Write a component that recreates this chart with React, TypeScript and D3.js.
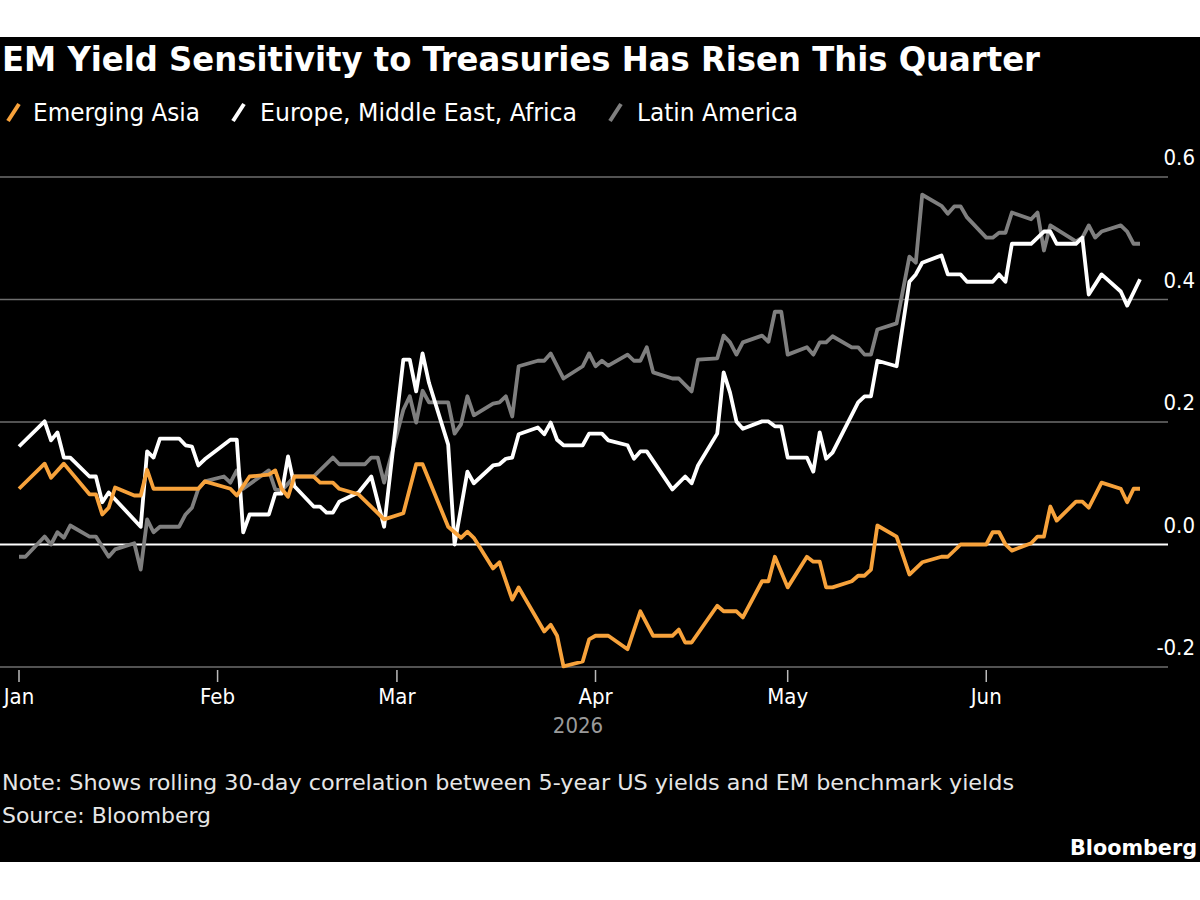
import { useMemo } from "react";
import * as d3 from "d3";

type Point = [string, number];

const title = "EM Yield Sensitivity to Treasuries Has Risen This Quarter";
const seriesNames = ["Emerging Asia", "Europe, Middle East, Africa", "Latin America"];
const seriesColors = ["#f7a23b", "#ffffff", "#7f7f7f"];
const yTicks = [-0.2, 0, 0.2, 0.4, 0.6];
const yearLabel = "2026";
const note = "Note: Shows rolling 30-day correlation between 5-year US yields and EM benchmark yields";
const source = "Source: Bloomberg";
const brand = "Bloomberg";

const emergingAsia: Point[] = [
    ["2026-01-01", 0.091], ["2026-01-05", 0.132], ["2026-01-06", 0.109], ["2026-01-08", 0.132],
    ["2026-01-12", 0.082], ["2026-01-13", 0.082], ["2026-01-14", 0.049], ["2026-01-15", 0.06],
    ["2026-01-16", 0.093], ["2026-01-19", 0.08], ["2026-01-20", 0.08], ["2026-01-21", 0.122],
    ["2026-01-22", 0.091], ["2026-01-29", 0.091], ["2026-01-30", 0.103], ["2026-02-03", 0.091],
    ["2026-02-04", 0.08], ["2026-02-06", 0.111], ["2026-02-09", 0.114], ["2026-02-10", 0.121],
    ["2026-02-11", 0.091], ["2026-02-12", 0.078], ["2026-02-13", 0.111], ["2026-02-16", 0.111],
    ["2026-02-17", 0.101], ["2026-02-19", 0.101], ["2026-02-20", 0.091], ["2026-02-23", 0.082],
    ["2026-02-27", 0.041], ["2026-03-02", 0.051], ["2026-03-04", 0.131], ["2026-03-05", 0.131],
    ["2026-03-09", 0.029], ["2026-03-11", 0.011], ["2026-03-12", 0.021], ["2026-03-13", 0.011],
    ["2026-03-16", -0.039], ["2026-03-17", -0.029], ["2026-03-19", -0.09], ["2026-03-20", -0.07],
    ["2026-03-24", -0.142], ["2026-03-25", -0.131], ["2026-03-26", -0.149], ["2026-03-27", -0.199],
    ["2026-03-30", -0.191], ["2026-03-31", -0.155], ["2026-04-01", -0.149], ["2026-04-03", -0.149],
    ["2026-04-06", -0.171], ["2026-04-08", -0.109], ["2026-04-10", -0.149], ["2026-04-13", -0.149],
    ["2026-04-14", -0.139], ["2026-04-15", -0.16], ["2026-04-16", -0.16], ["2026-04-20", -0.1],
    ["2026-04-21", -0.109], ["2026-04-23", -0.109], ["2026-04-24", -0.119], ["2026-04-27", -0.06],
    ["2026-04-28", -0.06], ["2026-04-29", -0.02], ["2026-05-01", -0.07], ["2026-05-04", -0.02],
    ["2026-05-05", -0.028], ["2026-05-06", -0.028], ["2026-05-07", -0.07], ["2026-05-08", -0.07],
    ["2026-05-11", -0.06], ["2026-05-12", -0.051], ["2026-05-13", -0.051], ["2026-05-14", -0.041],
    ["2026-05-15", 0.031], ["2026-05-18", 0.013], ["2026-05-20", -0.049], ["2026-05-22", -0.029],
    ["2026-05-25", -0.02], ["2026-05-26", -0.02], ["2026-05-28", 0], ["2026-06-01", 0],
    ["2026-06-02", 0.02], ["2026-06-03", 0.02], ["2026-06-04", 0], ["2026-06-05", -0.01],
    ["2026-06-08", 0.002], ["2026-06-09", 0.013], ["2026-06-10", 0.013], ["2026-06-11", 0.062],
    ["2026-06-12", 0.039], ["2026-06-15", 0.07], ["2026-06-16", 0.07], ["2026-06-17", 0.06],
    ["2026-06-19", 0.101], ["2026-06-22", 0.091], ["2026-06-23", 0.069], ["2026-06-24", 0.091],
    ["2026-06-25", 0.091],
];

const emea: Point[] = [
    ["2026-01-01", 0.16], ["2026-01-05", 0.201], ["2026-01-06", 0.17], ["2026-01-07", 0.183],
    ["2026-01-08", 0.142], ["2026-01-09", 0.142], ["2026-01-12", 0.111], ["2026-01-13", 0.111],
    ["2026-01-14", 0.069], ["2026-01-15", 0.085], ["2026-01-20", 0.029], ["2026-01-21", 0.152],
    ["2026-01-22", 0.142], ["2026-01-23", 0.173], ["2026-01-26", 0.173], ["2026-01-27", 0.162],
    ["2026-01-28", 0.16], ["2026-01-29", 0.129], ["2026-01-30", 0.139], ["2026-02-03", 0.171],
    ["2026-02-04", 0.171], ["2026-02-05", 0.02], ["2026-02-06", 0.049], ["2026-02-09", 0.049],
    ["2026-02-10", 0.083], ["2026-02-11", 0.083], ["2026-02-12", 0.144], ["2026-02-13", 0.095],
    ["2026-02-16", 0.062], ["2026-02-17", 0.062], ["2026-02-18", 0.052], ["2026-02-19", 0.052],
    ["2026-02-20", 0.07], ["2026-02-23", 0.085], ["2026-02-25", 0.111], ["2026-02-27", 0.029],
    ["2026-03-02", 0.302], ["2026-03-03", 0.302], ["2026-03-04", 0.25], ["2026-03-05", 0.312],
    ["2026-03-06", 0.264], ["2026-03-09", 0.163], ["2026-03-10", 0], ["2026-03-12", 0.119],
    ["2026-03-13", 0.1], ["2026-03-16", 0.129], ["2026-03-17", 0.131], ["2026-03-18", 0.14],
    ["2026-03-19", 0.142], ["2026-03-20", 0.18], ["2026-03-23", 0.191], ["2026-03-24", 0.18],
    ["2026-03-25", 0.199], ["2026-03-26", 0.171], ["2026-03-27", 0.162], ["2026-03-30", 0.162],
    ["2026-03-31", 0.181], ["2026-04-02", 0.181], ["2026-04-03", 0.17], ["2026-04-06", 0.162],
    ["2026-04-07", 0.14], ["2026-04-08", 0.152], ["2026-04-09", 0.152], ["2026-04-13", 0.09],
    ["2026-04-15", 0.111], ["2026-04-16", 0.1], ["2026-04-17", 0.129], ["2026-04-20", 0.181],
    ["2026-04-21", 0.281], ["2026-04-22", 0.248], ["2026-04-23", 0.201], ["2026-04-24", 0.189],
    ["2026-04-27", 0.201], ["2026-04-28", 0.201], ["2026-04-29", 0.193], ["2026-04-30", 0.193],
    ["2026-05-01", 0.142], ["2026-05-04", 0.142], ["2026-05-05", 0.119], ["2026-05-06", 0.183],
    ["2026-05-07", 0.14], ["2026-05-08", 0.15], ["2026-05-12", 0.232], ["2026-05-13", 0.242],
    ["2026-05-14", 0.242], ["2026-05-15", 0.3], ["2026-05-18", 0.291], ["2026-05-20", 0.429],
    ["2026-05-21", 0.441], ["2026-05-22", 0.46], ["2026-05-25", 0.472], ["2026-05-26", 0.441],
    ["2026-05-28", 0.441], ["2026-05-29", 0.429], ["2026-06-02", 0.429], ["2026-06-03", 0.441],
    ["2026-06-04", 0.429], ["2026-06-05", 0.491], ["2026-06-08", 0.491], ["2026-06-10", 0.511],
    ["2026-06-11", 0.511], ["2026-06-12", 0.491], ["2026-06-15", 0.491], ["2026-06-16", 0.501],
    ["2026-06-17", 0.408], ["2026-06-19", 0.441], ["2026-06-22", 0.413], ["2026-06-23", 0.39],
    ["2026-06-25", 0.433],
];

const latinAmerica: Point[] = [
    ["2026-01-01", -0.02], ["2026-01-02", -0.02], ["2026-01-05", 0.013], ["2026-01-06", 0],
    ["2026-01-07", 0.02], ["2026-01-08", 0.011], ["2026-01-09", 0.031], ["2026-01-12", 0.013],
    ["2026-01-13", 0.013], ["2026-01-15", -0.02], ["2026-01-16", -0.008], ["2026-01-19", 0.002],
    ["2026-01-20", -0.041], ["2026-01-21", 0.041], ["2026-01-22", 0.02], ["2026-01-23", 0.029],
    ["2026-01-26", 0.029], ["2026-01-27", 0.049], ["2026-01-28", 0.06], ["2026-01-29", 0.091],
    ["2026-01-30", 0.103], ["2026-02-02", 0.111], ["2026-02-03", 0.101], ["2026-02-04", 0.121],
    ["2026-02-05", 0.091], ["2026-02-09", 0.121], ["2026-02-10", 0.09], ["2026-02-11", 0.088],
    ["2026-02-13", 0.111], ["2026-02-16", 0.111], ["2026-02-19", 0.142], ["2026-02-20", 0.131],
    ["2026-02-24", 0.131], ["2026-02-25", 0.142], ["2026-02-26", 0.142], ["2026-02-27", 0.101],
    ["2026-03-02", 0.22], ["2026-03-03", 0.242], ["2026-03-04", 0.199], ["2026-03-05", 0.251],
    ["2026-03-06", 0.232], ["2026-03-09", 0.232], ["2026-03-10", 0.181], ["2026-03-11", 0.196],
    ["2026-03-12", 0.242], ["2026-03-13", 0.211], ["2026-03-16", 0.23], ["2026-03-17", 0.232],
    ["2026-03-18", 0.242], ["2026-03-19", 0.209], ["2026-03-20", 0.291], ["2026-03-23", 0.3],
    ["2026-03-24", 0.3], ["2026-03-25", 0.312], ["2026-03-27", 0.271], ["2026-03-30", 0.291],
    ["2026-03-31", 0.312], ["2026-04-01", 0.291], ["2026-04-02", 0.3], ["2026-04-03", 0.292],
    ["2026-04-06", 0.31], ["2026-04-07", 0.3], ["2026-04-08", 0.3], ["2026-04-09", 0.322],
    ["2026-04-10", 0.281], ["2026-04-13", 0.271], ["2026-04-14", 0.271], ["2026-04-16", 0.25],
    ["2026-04-17", 0.302], ["2026-04-20", 0.304], ["2026-04-21", 0.341], ["2026-04-22", 0.33],
    ["2026-04-23", 0.31], ["2026-04-24", 0.33], ["2026-04-27", 0.341], ["2026-04-28", 0.331],
    ["2026-04-29", 0.38], ["2026-04-30", 0.38], ["2026-05-01", 0.31], ["2026-05-04", 0.322],
    ["2026-05-05", 0.31], ["2026-05-06", 0.33], ["2026-05-07", 0.33], ["2026-05-08", 0.34],
    ["2026-05-11", 0.322], ["2026-05-12", 0.322], ["2026-05-13", 0.31], ["2026-05-14", 0.31],
    ["2026-05-15", 0.351], ["2026-05-18", 0.361], ["2026-05-20", 0.47], ["2026-05-21", 0.46],
    ["2026-05-22", 0.571], ["2026-05-25", 0.553], ["2026-05-26", 0.54], ["2026-05-27", 0.552],
    ["2026-05-28", 0.552], ["2026-05-29", 0.534], ["2026-06-01", 0.501], ["2026-06-02", 0.501],
    ["2026-06-03", 0.509], ["2026-06-04", 0.509], ["2026-06-05", 0.542], ["2026-06-08", 0.531],
    ["2026-06-09", 0.542], ["2026-06-10", 0.48], ["2026-06-11", 0.521], ["2026-06-15", 0.495],
    ["2026-06-16", 0.501], ["2026-06-17", 0.521], ["2026-06-18", 0.501], ["2026-06-19", 0.511],
    ["2026-06-22", 0.521], ["2026-06-23", 0.511], ["2026-06-24", 0.491], ["2026-06-25", 0.491],
];

const WIDTH = 1200;
const HEIGHT = 900;
const PANEL_TOP = 37;
const PANEL_BOTTOM = 862;
const GRID_RIGHT = 1168;
const FONT = "'DejaVu Sans Condensed', 'Liberation Sans Narrow', 'DejaVu Sans', sans-serif";

// legend slots: icon x, text x, text width
const legendSlots = [
    { icon: 8, text: 33, width: 167 },
    { icon: 233, text: 260, width: 317 },
    { icon: 610, text: 637, width: 161 },
];

const parseDate = d3.timeParse("%Y-%m-%d");

export default function App() {
    const x = useMemo(
        () =>
            d3
                .scaleTime()
                .domain([parseDate("2026-01-01")!, parseDate("2026-06-25")!])
                .range([19, 1140]),
        []
    );
    const y = useMemo(() => d3.scaleLinear().domain([-0.2, 0.6]).range([667, 177]), []);

    const paths = useMemo(() => {
        const line = d3
            .line<Point>()
            .x((d) => x(parseDate(d[0])!))
            .y((d) => y(d[1]));
        return [emergingAsia, emea, latinAmerica].map((s) => line(s) || undefined);
    }, [x, y]);

    const months = d3.timeMonth.range(parseDate("2026-01-01")!, parseDate("2026-07-01")!);
    const fmtMonth = d3.timeFormat("%b");
    // plain hyphen for negatives, like "-0.2"
    const fmtTick = (v: number) => d3.format(".1f")(v).replace("\u2212", "-");

    // draw order: grey under white under orange
    const drawOrder = [2, 1, 0];

    return (
        <svg
            width={WIDTH}
            height={HEIGHT}
            style={{ position: "absolute", left: 0, top: 0, background: "#fff" }}
            fontFamily={FONT}
        >
            <rect x={0} y={PANEL_TOP} width={WIDTH} height={PANEL_BOTTOM - PANEL_TOP} fill="#000" />

            <text x={2} y={71} fill="#fff" fontSize={33} fontWeight="bold" textLength={1038} lengthAdjust="spacingAndGlyphs">
                {title}
            </text>

            {seriesNames.map((name, i) => {
                const slot = legendSlots[i];
                return (
                    <g key={name}>
                        <line
                            x1={slot.icon}
                            y1={121}
                            x2={slot.icon + 11}
                            y2={104}
                            stroke={seriesColors[i]}
                            strokeWidth={4}
                        />
                        <text
                            x={slot.text}
                            y={121}
                            fill="#fff"
                            fontSize={24}
                            textLength={slot.width}
                            lengthAdjust="spacingAndGlyphs"
                        >
                            {name}
                        </text>
                    </g>
                );
            })}

            {yTicks.map((t) => (
                <g key={t}>
                    <line
                        x1={0}
                        x2={GRID_RIGHT}
                        y1={y(t)}
                        y2={y(t)}
                        stroke={t === 0 ? "#ffffff" : "#6e6e6e"}
                        strokeWidth={t === 0 ? 2 : 1.5}
                    />
                    <text x={1195} y={y(t) - 12} fill="#fff" fontSize={22} textAnchor="end">
                        {fmtTick(t)}
                    </text>
                </g>
            ))}

            {months.map((m) => (
                <g key={m.getTime()}>
                    <line x1={x(m)} x2={x(m)} y1={670} y2={682} stroke="#bbb" strokeWidth={1.5} />
                    <text x={x(m)} y={704} fill="#fff" fontSize={22} textAnchor="middle">
                        {fmtMonth(m)}
                    </text>
                </g>
            ))}
            <text x={578} y={733} fill="#9a9a9a" fontSize={22} textAnchor="middle">
                {yearLabel}
            </text>

            {drawOrder.map((i) => (
                <path
                    key={seriesNames[i]}
                    d={paths[i]}
                    fill="none"
                    stroke={seriesColors[i]}
                    strokeWidth={3.8}
                    strokeLinejoin="round"
                />
            ))}

            <text x={2} y={790} fill="#e6e6e6" fontSize={22} textLength={1012} lengthAdjust="spacingAndGlyphs">
                {note}
            </text>
            <text x={2} y={823} fill="#e6e6e6" fontSize={22} textLength={209} lengthAdjust="spacingAndGlyphs">
                {source}
            </text>
            <text
                x={1197}
                y={855}
                fill="#fff"
                fontSize={22}
                fontWeight="bold"
                textAnchor="end"
                textLength={127}
                lengthAdjust="spacingAndGlyphs"
            >
                {brand}
            </text>
        </svg>
    );
}
